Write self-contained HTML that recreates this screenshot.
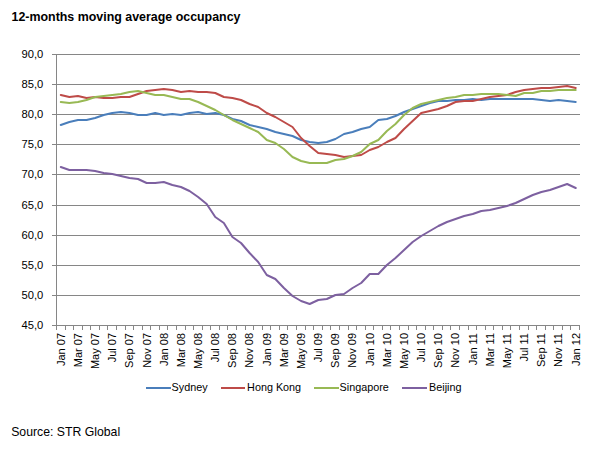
<!DOCTYPE html><html><head><meta charset="utf-8"><style>html,body{margin:0;padding:0;background:#fff;}svg{display:block;}text{font-family:"Liberation Sans", sans-serif;fill:#000;}</style></head><body>
<svg width="604" height="453" viewBox="0 0 604 453">
<rect width="604" height="453" fill="#fff"/>
<text x="11.5" y="20.7" font-size="12.2" font-weight="bold" textLength="229" lengthAdjust="spacingAndGlyphs">12-months moving average occupancy</text>
<path d="M52 54.5H580 M52 84.5H580 M52 114.5H580 M52 144.5H580 M52 174.5H580 M52 205.5H580 M52 235.5H580 M52 265.5H580 M52 295.5H580 M52 325.5H580 M56.5 54V325 M56.5 325V330 M65.5 325V330 M73.5 325V330 M82.5 325V330 M90.5 325V330 M99.5 325V330 M107.5 325V330 M116.5 325V330 M125.5 325V330 M133.5 325V330 M142.5 325V330 M150.5 325V330 M159.5 325V330 M167.5 325V330 M176.5 325V330 M185.5 325V330 M193.5 325V330 M202.5 325V330 M210.5 325V330 M219.5 325V330 M227.5 325V330 M236.5 325V330 M245.5 325V330 M253.5 325V330 M262.5 325V330 M270.5 325V330 M279.5 325V330 M287.5 325V330 M296.5 325V330 M305.5 325V330 M313.5 325V330 M322.5 325V330 M330.5 325V330 M339.5 325V330 M348.5 325V330 M356.5 325V330 M365.5 325V330 M373.5 325V330 M382.5 325V330 M390.5 325V330 M399.5 325V330 M408.5 325V330 M416.5 325V330 M425.5 325V330 M433.5 325V330 M442.5 325V330 M450.5 325V330 M459.5 325V330 M468.5 325V330 M476.5 325V330 M485.5 325V330 M493.5 325V330 M502.5 325V330 M510.5 325V330 M519.5 325V330 M528.5 325V330 M536.5 325V330 M545.5 325V330 M553.5 325V330 M562.5 325V330 M570.5 325V330 M579.5 325V330" stroke="#868686" stroke-width="1" fill="none"/>
<text x="43.3" y="57.7" font-size="11.2" text-anchor="end">90,0</text>
<text x="43.3" y="87.7" font-size="11.2" text-anchor="end">85,0</text>
<text x="43.3" y="117.7" font-size="11.2" text-anchor="end">80,0</text>
<text x="43.3" y="147.7" font-size="11.2" text-anchor="end">75,0</text>
<text x="43.3" y="177.7" font-size="11.2" text-anchor="end">70,0</text>
<text x="43.3" y="208.7" font-size="11.2" text-anchor="end">65,0</text>
<text x="43.3" y="238.7" font-size="11.2" text-anchor="end">60,0</text>
<text x="43.3" y="268.7" font-size="11.2" text-anchor="end">55,0</text>
<text x="43.3" y="298.7" font-size="11.2" text-anchor="end">50,0</text>
<text x="43.3" y="328.7" font-size="11.2" text-anchor="end">45,0</text>
<text transform="translate(64.69,333.0) rotate(-90)" font-size="11" text-anchor="end">Jan 07</text>
<text transform="translate(81.85,333.0) rotate(-90)" font-size="11" text-anchor="end">Mar 07</text>
<text transform="translate(99.02,333.0) rotate(-90)" font-size="11" text-anchor="end">May 07</text>
<text transform="translate(116.18,333.0) rotate(-90)" font-size="11" text-anchor="end">Jul 07</text>
<text transform="translate(133.35,333.0) rotate(-90)" font-size="11" text-anchor="end">Sep 07</text>
<text transform="translate(150.51,333.0) rotate(-90)" font-size="11" text-anchor="end">Nov 07</text>
<text transform="translate(167.67,333.0) rotate(-90)" font-size="11" text-anchor="end">Jan 08</text>
<text transform="translate(184.84,333.0) rotate(-90)" font-size="11" text-anchor="end">Mar 08</text>
<text transform="translate(202.00,333.0) rotate(-90)" font-size="11" text-anchor="end">May 08</text>
<text transform="translate(219.17,333.0) rotate(-90)" font-size="11" text-anchor="end">Jul 08</text>
<text transform="translate(236.33,333.0) rotate(-90)" font-size="11" text-anchor="end">Sep 08</text>
<text transform="translate(253.49,333.0) rotate(-90)" font-size="11" text-anchor="end">Nov 08</text>
<text transform="translate(270.66,333.0) rotate(-90)" font-size="11" text-anchor="end">Jan 09</text>
<text transform="translate(287.82,333.0) rotate(-90)" font-size="11" text-anchor="end">Mar 09</text>
<text transform="translate(304.99,333.0) rotate(-90)" font-size="11" text-anchor="end">May 09</text>
<text transform="translate(322.15,333.0) rotate(-90)" font-size="11" text-anchor="end">Jul 09</text>
<text transform="translate(339.31,333.0) rotate(-90)" font-size="11" text-anchor="end">Sep 09</text>
<text transform="translate(356.48,333.0) rotate(-90)" font-size="11" text-anchor="end">Nov 09</text>
<text transform="translate(373.64,333.0) rotate(-90)" font-size="11" text-anchor="end">Jan 10</text>
<text transform="translate(390.81,333.0) rotate(-90)" font-size="11" text-anchor="end">Mar 10</text>
<text transform="translate(407.97,333.0) rotate(-90)" font-size="11" text-anchor="end">May 10</text>
<text transform="translate(425.13,333.0) rotate(-90)" font-size="11" text-anchor="end">Jul 10</text>
<text transform="translate(442.30,333.0) rotate(-90)" font-size="11" text-anchor="end">Sep 10</text>
<text transform="translate(459.46,333.0) rotate(-90)" font-size="11" text-anchor="end">Nov 10</text>
<text transform="translate(476.63,333.0) rotate(-90)" font-size="11" text-anchor="end">Jan 11</text>
<text transform="translate(493.79,333.0) rotate(-90)" font-size="11" text-anchor="end">Mar 11</text>
<text transform="translate(510.95,333.0) rotate(-90)" font-size="11" text-anchor="end">May 11</text>
<text transform="translate(528.12,333.0) rotate(-90)" font-size="11" text-anchor="end">Jul 11</text>
<text transform="translate(545.28,333.0) rotate(-90)" font-size="11" text-anchor="end">Sep 11</text>
<text transform="translate(562.45,333.0) rotate(-90)" font-size="11" text-anchor="end">Nov 11</text>
<text transform="translate(579.61,333.0) rotate(-90)" font-size="11" text-anchor="end">Jan 12</text>
<polyline points="60.79,125 69.37,122 77.95,120 86.54,120 95.12,118 103.70,115 112.28,113 120.86,112 129.45,113 138.03,115 146.61,115 155.19,113 163.77,115 172.36,114 180.94,115 189.52,113 198.10,112 206.68,114 215.27,113 223.85,115 232.43,119 241.01,121 249.59,125 258.18,127 266.76,129 275.34,132 283.92,134 292.50,136 301.09,140 309.67,142 318.25,143 326.83,142 335.41,139 344.00,134 352.58,132 361.16,129 369.74,127 378.32,120 386.91,119 395.49,116 404.07,112 412.65,109 421.23,106 429.82,103 438.40,101 446.98,101 455.56,100 464.14,100 472.73,99 481.31,100 489.89,99 498.47,99 507.05,99 515.64,99 524.22,99 532.80,99 541.38,100 549.96,101 558.55,100 567.13,101 575.71,102" fill="none" stroke="#4A7EBB" stroke-width="2.0" stroke-linejoin="round" stroke-linecap="round"/>
<polyline points="60.79,95 69.37,97 77.95,96 86.54,98 95.12,97 103.70,98 112.28,98 120.86,97 129.45,97 138.03,94 146.61,91 155.19,90 163.77,89 172.36,90 180.94,92 189.52,91 198.10,92 206.68,92 215.27,93 223.85,97 232.43,98 241.01,100 249.59,104 258.18,107 266.76,113 275.34,117 283.92,122 292.50,127 301.09,138 309.67,146 318.25,153 326.83,154 335.41,155 344.00,157 352.58,156 361.16,155 369.74,150 378.32,147 386.91,142 395.49,138 404.07,129 412.65,121 421.23,113 429.82,111 438.40,109 446.98,106 455.56,102 464.14,101 472.73,101 481.31,99 489.89,97 498.47,96 507.05,95 515.64,92 524.22,90 532.80,89 541.38,88 549.96,88 558.55,87 567.13,86 575.71,88" fill="none" stroke="#BE4B48" stroke-width="2.0" stroke-linejoin="round" stroke-linecap="round"/>
<polyline points="60.79,102 69.37,103 77.95,102 86.54,100 95.12,97 103.70,96 112.28,95 120.86,94 129.45,92 138.03,91 146.61,93 155.19,95 163.77,95 172.36,97 180.94,99 189.52,99 198.10,102 206.68,106 215.27,110 223.85,115 232.43,120 241.01,124 249.59,128 258.18,132 266.76,140 275.34,143 283.92,149 292.50,157 301.09,161 309.67,163 318.25,163 326.83,163 335.41,160 344.00,159 352.58,156 361.16,152 369.74,144 378.32,140 386.91,131 395.49,124 404.07,115 412.65,108 421.23,104 429.82,102 438.40,100 446.98,98 455.56,97 464.14,95 472.73,95 481.31,94 489.89,94 498.47,94 507.05,95 515.64,96 524.22,93 532.80,93 541.38,91 549.96,91 558.55,90 567.13,90 575.71,90" fill="none" stroke="#98B954" stroke-width="2.0" stroke-linejoin="round" stroke-linecap="round"/>
<polyline points="60.79,167 69.37,170 77.95,170 86.54,170 95.12,171 103.70,173 112.28,174 120.86,176 129.45,178 138.03,179 146.61,183 155.19,183 163.77,182 172.36,185 180.94,187 189.52,191 198.10,197 206.68,204 215.27,217 223.85,223 232.43,237 241.01,243 249.59,253 258.18,262 266.76,275 275.34,279 283.92,288 292.50,296 301.09,301 309.67,304 318.25,300 326.83,299 335.41,295 344.00,294 352.58,288 361.16,283 369.74,274 378.32,274 386.91,265 395.49,258 404.07,250 412.65,242 421.23,236 429.82,231 438.40,226 446.98,222 455.56,219 464.14,216 472.73,214 481.31,211 489.89,210 498.47,208 507.05,206 515.64,203 524.22,199 532.80,195 541.38,192 549.96,190 558.55,187 567.13,184 575.71,188" fill="none" stroke="#7D60A0" stroke-width="2.0" stroke-linejoin="round" stroke-linecap="round"/>
<path d="M146 388H171" stroke="#4A7EBB" stroke-width="2.0"/>
<text x="171.6" y="391.2" font-size="10.8">Sydney</text>
<path d="M221 388H245" stroke="#BE4B48" stroke-width="2.0"/>
<text x="247.1" y="391.2" font-size="10.8">Hong Kong</text>
<path d="M314 388H339" stroke="#98B954" stroke-width="2.0"/>
<text x="339.6" y="391.2" font-size="10.8">Singapore</text>
<path d="M402 388H427" stroke="#7D60A0" stroke-width="2.0"/>
<text x="429.1" y="391.2" font-size="10.8">Beijing</text>
<text x="11.2" y="436" font-size="12.25">Source: STR Global</text>
</svg></body></html>
